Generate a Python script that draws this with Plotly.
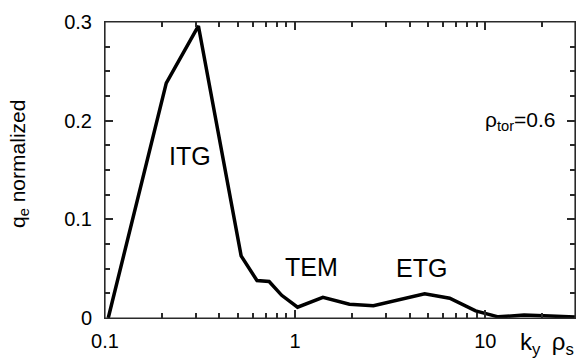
import plotly.graph_objects as go

# Normalized electron heat flux spectrum versus binormal wavenumber
k_y_rho_s = [0.104, 0.21, 0.31, 0.52, 0.63, 0.73, 0.85, 1.03, 1.40, 1.93,
             2.58, 3.5, 4.8, 6.5, 8.9, 11.7, 16.0, 22.0, 30.0]
q_e_norm = [0.0, 0.238, 0.296, 0.063, 0.038, 0.037, 0.023, 0.011, 0.021, 0.014,
            0.0125, 0.018, 0.0245, 0.020, 0.0072, 0.0012, 0.003, 0.002, 0.001]

x_ticks = [0.1, 1, 10]
x_tick_text = ["0.1", "1", "10"]
x_minor = [m * d for d in (0.1, 1, 10) for m in range(2, 10) if m * d <= 30]
y_ticks = [0, 0.1, 0.2, 0.3]
y_tick_text = ["0", "0.1", "0.2", "0.3"]
y_minor = [i * 0.025 for i in range(13) if i % 4]

W, H = 576, 362
L, R, T, B = 105, 1, 22, 44
pw, ph = W - L - R, H - T - B
X_RANGE = [-1, 1.472]
Y_RANGE = [0, 0.3]


def px(x):
    return (x - L) / pw


def py(y):
    return (H - B - y) / ph


FONT = "Liberation Sans, Arial, sans-serif"
FRAME = "#2a2a2a"

fig = go.Figure()
fig.add_trace(go.Scatter(
    x=k_y_rho_s, y=q_e_norm, mode="lines",
    line=dict(color="black", width=3.5),
    hoverinfo="skip", cliponaxis=True,
))
# companion axes: one pair carries the tick numbers, one pair the minor ticks
for xa, ya in (("x2", "y2"), ("x3", "y3")):
    fig.add_trace(go.Scatter(
        x=k_y_rho_s, y=q_e_norm, mode="none", xaxis=xa, yaxis=ya,
        hoverinfo="skip", showlegend=False,
    ))

frame = dict(
    showgrid=False, zeroline=False, showline=True, linecolor=FRAME,
    linewidth=1, mirror="allticks", ticks="inside", tickcolor=FRAME,
    tickwidth=1.5, ticklen=8, showticklabels=False,
)
minor = dict(
    showgrid=False, zeroline=False, showline=False, mirror="ticks",
    ticks="inside", tickcolor=FRAME, tickwidth=1.5, ticklen=5,
    showticklabels=False, tickmode="array",
)
labels = dict(
    showgrid=False, zeroline=False, showline=False, ticks="outside",
    tickcolor="rgba(0,0,0,0)", tickfont=dict(family=FONT, size=20, color="black"),
    tickmode="array",
)

fig.update_layout(
    xaxis=dict(type="log", range=X_RANGE, tickmode="array",
               tickvals=x_ticks, **frame),
    yaxis=dict(range=Y_RANGE, tickmode="array", tickvals=y_ticks, **frame),
    xaxis2=dict(type="log", range=X_RANGE, overlaying="x", side="bottom",
                tickvals=x_ticks, ticktext=x_tick_text, ticklen=5, **labels),
    yaxis2=dict(range=Y_RANGE, overlaying="y", side="left",
                tickvals=y_ticks, ticktext=y_tick_text, ticklen=8, **labels),
    xaxis3=dict(type="log", range=X_RANGE, overlaying="x", side="bottom",
                tickvals=x_minor, **minor),
    yaxis3=dict(range=Y_RANGE, overlaying="y", side="left",
                tickvals=y_minor, **minor),
)

# plot frame
fig.add_shape(
    type="rect", xref="paper", yref="paper", x0=0, x1=1, y0=0, y1=1,
    line=dict(color=FRAME, width=1.2), fillcolor="rgba(0,0,0,0)",
    layer="above",
)

annotations = [
    dict(text="ITG", x=px(190), y=py(156), size=25),
    dict(text="TEM", x=px(311), y=py(267), size=25),
    dict(text="ETG", x=px(421), y=py(268), size=25),
]
for a in annotations:
    fig.add_annotation(
        text=a["text"], x=a["x"], y=a["y"], xref="paper", yref="paper",
        showarrow=False, xanchor="center", yanchor="middle",
        font=dict(family=FONT, size=a["size"], color="black"),
    )

fig.add_annotation(
    text="ρ<sub>tor</sub>=0.6", x=px(558), y=py(121), xref="paper",
    yref="paper", showarrow=False, xanchor="right", yanchor="middle",
    font=dict(family=FONT, size=21, color="black"),
)
fig.add_annotation(
    text="k<sub>y </sub> ρ<sub>s</sub>", x=px(576), y=py(343), xref="paper",
    yref="paper", showarrow=False, xanchor="right", yanchor="middle",
    font=dict(family=FONT, size=24, color="black"),
)
fig.add_annotation(
    text="q<sub>e</sub> normalized", x=px(19), y=py(164), xref="paper",
    yref="paper", showarrow=False, textangle=-90, xanchor="center",
    yanchor="middle", font=dict(family=FONT, size=21, color="black"),
)

fig.update_layout(
    width=W, height=H, margin=dict(l=L, r=R, t=T, b=B, pad=0),
    paper_bgcolor="white", plot_bgcolor="white", showlegend=False,
)

fig.write_html("out.html")
